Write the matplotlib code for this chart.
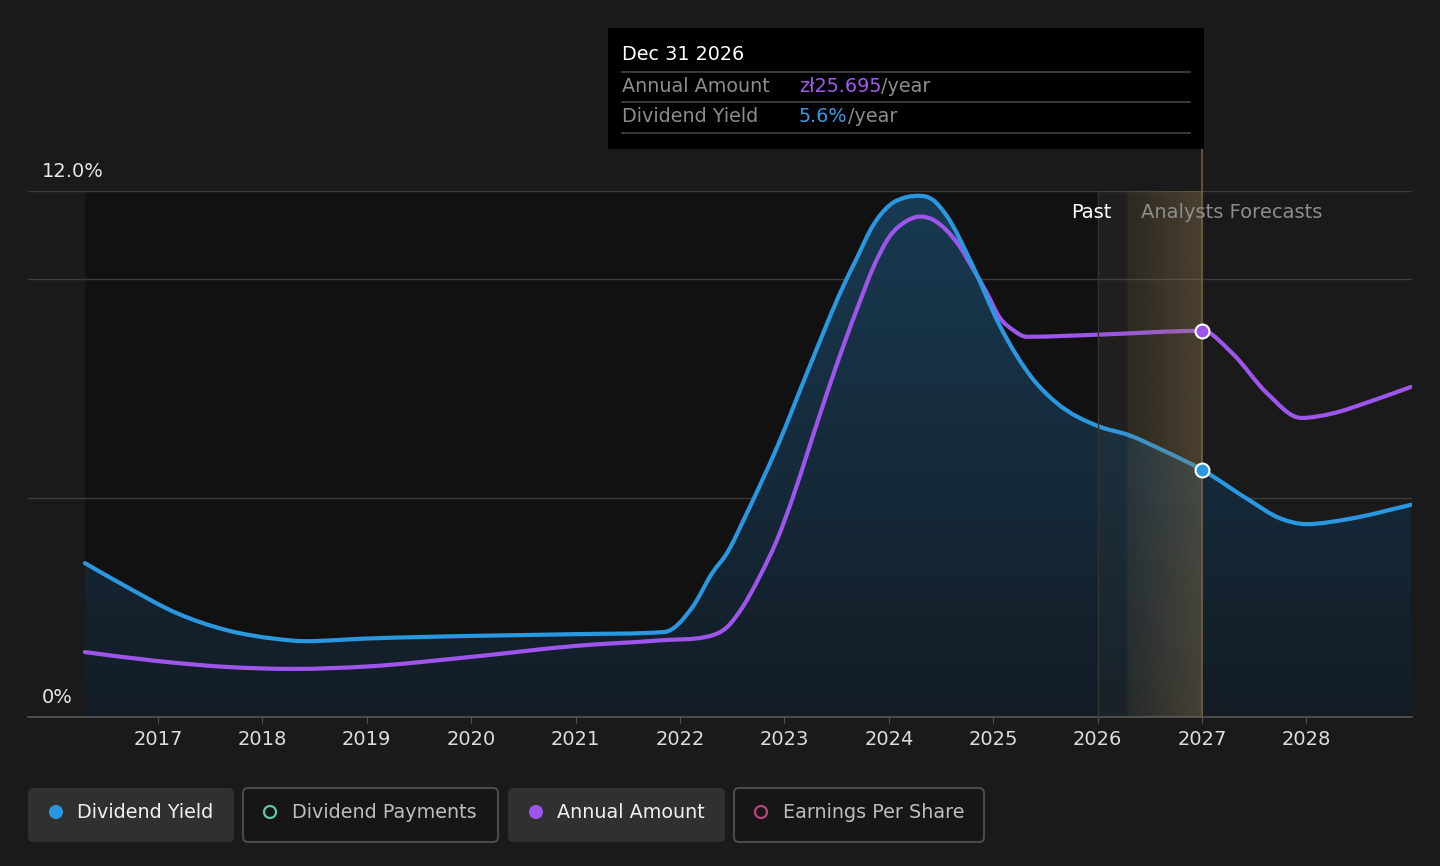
import numpy as np
import matplotlib
matplotlib.use('Agg')
import matplotlib.pyplot as plt
from matplotlib.path import Path
from matplotlib.patches import PathPatch, Rectangle, FancyBboxPatch, Circle
from matplotlib.transforms import Affine2D

# dividend yield (%)
yield_years = [2016.30, 2016.70, 2017.18, 2017.66, 2018.14, 2018.40, 2019.0, 2020.0, 2021.0,
               2021.85, 2022.12, 2022.31, 2022.45, 2022.64, 2022.93, 2023.24, 2023.56,
               2023.69, 2023.85, 2024.01, 2024.17, 2024.30, 2024.42, 2024.55, 2024.80,
               2025.06, 2025.38, 2025.61, 2026.0, 2026.3, 2026.62,
               2027.0, 2027.45, 2027.74, 2028.0, 2028.41, 2029.0]
yield_pct = [3.51, 2.97, 2.37, 1.98, 1.78, 1.73, 1.79, 1.85, 1.89,
             1.94, 2.51, 3.29, 3.74, 4.65, 6.16, 7.99, 9.81,
             10.45, 11.22, 11.68, 11.86, 11.89, 11.80, 11.45, 10.31,
             8.94, 7.71, 7.16, 6.64, 6.43, 6.09,
             5.64, 4.95, 4.54, 4.40, 4.52, 4.84]

# annual amount (zl / year)
amount_years = [2016.30, 2017.0, 2017.66, 2018.29, 2019.0, 2020.0, 2021.0, 2021.81, 2022.28,
                2022.45, 2022.60, 2022.76, 2022.93, 2023.08, 2023.24, 2023.41, 2023.56,
                2023.72, 2023.85, 2024.01, 2024.17, 2024.30, 2024.42, 2024.55, 2024.68,
                2024.80, 2024.94, 2025.06, 2025.19, 2025.32, 2026.0, 2027.0, 2027.29,
                2027.62, 2027.95, 2028.25, 2028.57, 2029.0]
amount_pln = [4.32, 3.72, 3.33, 3.20, 3.36, 4.00, 4.73, 5.10, 5.38,
              5.98, 7.32, 9.31, 11.8, 14.6, 18.0, 21.6, 24.6,
              27.6, 29.9, 32.0, 33.0, 33.3, 33.1, 32.4, 31.3,
              29.9, 28.2, 26.6, 25.75, 25.3, 25.44, 25.695, 24.2,
              21.56, 19.9, 20.2, 20.9, 21.96]

tick_years = list(range(2017, 2029))
past_end = 2026.0
tooltip_year = 2027.0
tooltip_date = 'Dec 31 2026'

BG = '#1a1a1a'
PAST_BG = '#111111'
BLUE = '#2a98e0'
PURPLE = '#9d55ec'
amount_top = 35.0   # amount axis maps 0..35 zl onto 0..12 %


def smooth_path(xs, ys, base=None):
    # cubic hermite with finite difference tangents, limited to avoid overshoot
    x = np.asarray(xs, float)
    y = np.asarray(ys, float)
    h = np.diff(x)
    d = np.diff(y) / h
    m = np.zeros_like(y)
    m[0], m[-1] = d[0], d[-1]
    for i in range(1, len(x) - 1):
        if d[i - 1] * d[i] > 0:
            mm = (d[i - 1] * h[i] + d[i] * h[i - 1]) / (h[i - 1] + h[i])
            lim = 3 * min(abs(d[i - 1]), abs(d[i]))
            m[i] = np.sign(mm) * min(abs(mm), lim)
    verts = [(x[0], y[0])]
    codes = [Path.MOVETO]
    for i in range(len(x) - 1):
        verts += [(x[i] + h[i] / 3, y[i] + m[i] * h[i] / 3),
                  (x[i + 1] - h[i] / 3, y[i + 1] - m[i + 1] * h[i] / 3),
                  (x[i + 1], y[i + 1])]
        codes += [Path.CURVE4] * 3
    if base is not None:
        verts += [(x[-1], base), (x[0], base), (x[0], y[0])]
        codes += [Path.LINETO, Path.LINETO, Path.CLOSEPOLY]
    return Path(verts, codes)


fig = plt.figure(figsize=(14.4, 8.66), dpi=100, facecolor=BG)
ax = fig.add_axes([28 / 1440, 149 / 866, 1384 / 1440, 526 / 866])
ax.set_facecolor(BG)
xmin, xmax = 2015.755, 2029.011
ax.set_xlim(xmin, xmax)
ax.set_ylim(0, 12)

amt_trans = Affine2D().scale(1, 12 / amount_top) + ax.transData

# past region darker
ax.axvspan(yield_years[0], past_end, color=PAST_BG, zorder=0, lw=0)

for g in [5, 10, 12]:
    ax.axhline(g, color='#3c3c3c', lw=1, zorder=1)

# gradient fill under yield line
fill_patch = PathPatch(smooth_path(yield_years, yield_pct, base=0), facecolor='none', edgecolor='none')
ax.add_patch(fill_patch)
grad = np.zeros((256, 1, 4))
c_bot = np.array([19, 28, 37]) / 255
c_top = np.array([24, 58, 82]) / 255
for k in range(256):
    t = k / 255
    grad[k, 0, :3] = c_bot * (1 - t) + c_top * t
    grad[k, 0, 3] = 1.0
im = ax.imshow(grad, extent=[yield_years[0], yield_years[-1], 0, 12], origin='lower',
               aspect='auto', zorder=2, interpolation='bilinear')
im.set_clip_path(fill_patch)

# lines
ax.add_patch(PathPatch(smooth_path(amount_years, amount_pln), fill=False, edgecolor=PURPLE,
                       lw=3, capstyle='round', transform=amt_trans, zorder=3))
ax.add_patch(PathPatch(smooth_path(yield_years, yield_pct), fill=False, edgecolor=BLUE,
                       lw=3, capstyle='round', zorder=3.1))

# band between past and tooltip date
nx = 300
band = np.zeros((1, nx, 4))
bx = np.linspace(past_end, tooltip_year, nx)
for j, xv in enumerate(bx):
    if xv < past_end + 0.28:
        a = 0.06
    else:
        a = 0.15 + (xv - past_end - 0.28) / (tooltip_year - past_end - 0.28) * 0.24
    band[0, j] = [150 / 255, 125 / 255, 80 / 255, a]
ax.imshow(band, extent=[past_end, tooltip_year, 0, 12], origin='lower', aspect='auto',
          zorder=4, interpolation='bilinear')
ax.axvline(past_end, color='#333333', lw=1, zorder=4.2)
ax.axvline(tooltip_year, ymin=0, ymax=(717 - 149) / 526, color='#6e5d40', lw=1.2,
           zorder=4.2, clip_on=False)

# markers on tooltip date
yi = yield_years.index(tooltip_year)
ai = amount_years.index(tooltip_year)
ax.plot([tooltip_year], [yield_pct[yi]], marker='o', ms=10, mfc=BLUE, mec='white', mew=1.5, zorder=6)
ax.plot([tooltip_year], [amount_pln[ai]], marker='o', ms=10, mfc=PURPLE, mec='white', mew=1.5,
        zorder=6, transform=amt_trans)

ax.set_xlim(xmin, xmax)
ax.set_ylim(0, 12)

# axes styling
for s in ['top', 'right', 'left']:
    ax.spines[s].set_visible(False)
ax.spines['bottom'].set_color('#555555')
ax.spines['bottom'].set_linewidth(1.2)
ax.set_yticks([])
ax.set_xticks(tick_years)
ax.set_xticklabels([str(y) for y in tick_years])
ax.tick_params(axis='x', colors='#555555', labelcolor='#dddddd', labelsize=14, length=4.5, pad=5)

ytr = ax.get_yaxis_transform()
ax.annotate('12.0%', xy=(14 / 1384, 12), xycoords=ytr, xytext=(0, 10), textcoords='offset pixels',
            va='bottom', ha='left', color='#e6e6e6', fontsize=14, annotation_clip=False)
ax.annotate('0%', xy=(14 / 1384, 0), xycoords=ytr, xytext=(0, 10), textcoords='offset pixels',
            va='bottom', ha='left', color='#e6e6e6', fontsize=14)

ax.annotate('Past', xy=(past_end + 0.28, 12), xytext=(-15, -21), textcoords='offset pixels',
            ha='right', va='center', color='#ffffff', fontsize=14, zorder=7)
ax.annotate('Analysts Forecasts', xy=(past_end + 0.28, 12), xytext=(14, -21), textcoords='offset pixels',
            ha='left', va='center', color='#8c8c8c', fontsize=14, zorder=7)

# overlay for tooltip and legend, in pixel units
ov = fig.add_axes([0, 0, 1, 1], zorder=10)
ov.set_xlim(0, 1440)
ov.set_ylim(866, 0)
ov.axis('off')

ov.add_patch(Rectangle((608, 28), 596, 121, facecolor='#000000', edgecolor='none'))
for yy in [72, 102, 133]:
    ov.plot([622, 1190], [yy, yy], color='#444444', lw=1.2)
fs_tip = 13.8
ov.text(622, 54, tooltip_date, color='#ffffff', fontsize=fs_tip, va='center')
ov.text(622, 86, 'Annual Amount', color='#8c8c8c', fontsize=fs_tip, va='center')
ov.text(622, 116, 'Dividend Yield', color='#8c8c8c', fontsize=fs_tip, va='center')
t1 = ov.text(799, 86, f'zł{amount_pln[ai]:.3f}', color='#a259f0', fontsize=fs_tip, va='center')
ov.annotate('/year', xy=(1, 0.5), xycoords=t1, va='center', ha='left', color='#8c8c8c', fontsize=fs_tip)
t2 = ov.text(799, 116, f'{yield_pct[yi]:.1f}%', color='#3a9ae0', fontsize=fs_tip, va='center')
ov.annotate('/year', xy=(1, 0.5), xycoords=t2, va='center', ha='left', color='#8c8c8c', fontsize=fs_tip)

# legend
legend_items = [
    ('Dividend Yield', BLUE, True, 28, 234),
    ('Dividend Payments', '#5cc8b0', False, 243, 498),
    ('Annual Amount', PURPLE, True, 508, 725),
    ('Earnings Per Share', '#b8457e', False, 734, 984),
]
for label, col, active, x0, x1 in legend_items:
    if active:
        box = FancyBboxPatch((x0, 788), x1 - x0, 54, boxstyle='round,pad=0,rounding_size=5',
                             facecolor='#303030', edgecolor='none')
    else:
        box = FancyBboxPatch((x0, 788), x1 - x0, 54, boxstyle='round,pad=0,rounding_size=5',
                             facecolor='#161616', edgecolor='#4a4a4a', lw=1.5)
    ov.add_patch(box)
    if active:
        ov.add_patch(Circle((x0 + 28, 812), 7, facecolor=col, edgecolor='none'))
        ov.text(x0 + 49, 812, label, color='#f0f0f0', fontsize=13.8, va='center')
    else:
        ov.add_patch(Circle((x0 + 27, 812), 6, facecolor='none', edgecolor=col, lw=1.6))
        ov.text(x0 + 49, 812, label, color='#bdbdbd', fontsize=13.8, va='center')

fig.savefig('out.png', dpi=100, facecolor=BG)
